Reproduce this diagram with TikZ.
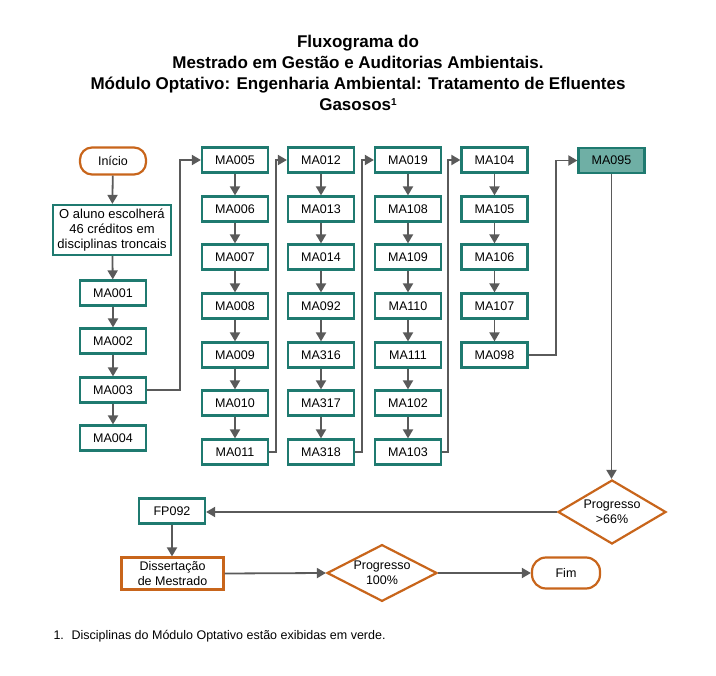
\documentclass[tikz,border=0pt]{standalone}
\usepackage{fontspec}
\setmainfont{Liberation Sans}
\usetikzlibrary{shapes.geometric,arrows.meta,positioning}
\definecolor{teal1}{HTML}{1F7A70}
\definecolor{tealfill}{HTML}{6FAFA5}
\definecolor{orng}{HTML}{C8651B}
\definecolor{arrg}{HTML}{5A5A5A}
\begin{document}
\begin{tikzpicture}[x=1pt,y=-1pt,
  box/.style={draw=teal1,line width=2.2pt,fill=white,minimum width=66pt,minimum height=25pt,inner sep=1pt,font=\fontsize{12.5}{14}\selectfont},
  obox/.style={draw=orng,line width=2.2pt,fill=white,align=center,inner sep=1pt,font=\fontsize{12.5}{14.5}\selectfont},
  term/.style={draw=orng,line width=2.2pt,fill=white,rounded corners=12pt,minimum width=66pt,minimum height=27pt,font=\fontsize{12.5}{14}\selectfont},
  dec/.style={draw=orng,line width=2.2pt,fill=white,diamond,aspect=1.7,inner sep=0pt,align=center,font=\fontsize{12.5}{14.5}\selectfont},
  arr/.style={draw=arrg,line width=1.8pt,-{Triangle[length=9pt,width=10pt]}}]
\useasboundingbox (0,0) rectangle (716,676);
% title
\node[align=center,font=\bfseries\fontsize{17}{21}\selectfont,anchor=north] (title) at (358,32)
  {Fluxograma do\\Mestrado em Gestão e Auditorias Ambientais.\\Módulo Optativo: Engenharia Ambiental: Tratamento de Efluentes\\Gasosos{\fontsize{10}{10}\selectfont\raisebox{5pt}{1}}};
% column 1
\node[term] (ini) at (113,161) {Início};
\node[box,align=center,minimum width=118pt,minimum height=50pt,inner sep=2pt,font=\fontsize{13}{15}\selectfont] (aluno) at (112,230) {O aluno escolherá\\46 créditos em\\disciplinas troncais};
\node[box] (ma001) at (113,293) {MA001};
\node[box] (ma002) at (113,341) {MA002};
\node[box] (ma003) at (113,390) {MA003};
\node[box] (ma004) at (113,438) {MA004};
\draw[arr] (ini) -- (aluno);
\draw[arr] (aluno) -- (ma001);
\draw[arr] (ma001) -- (ma002);
\draw[arr] (ma002) -- (ma003);
\draw[arr] (ma003) -- (ma004);
% columns
\def\rowy{{160,209,257,306,355,403,452}}
\foreach \n [count=\i from 0] in {MA005,MA006,MA007,MA008,MA009,MA010,MA011}{
  \pgfmathsetmacro\yy{\rowy[\i]}
  \node[box] (a\i) at (235,\yy) {\n};}
\foreach \n [count=\i from 0] in {MA012,MA013,MA014,MA092,MA316,MA317,MA318}{
  \pgfmathsetmacro\yy{\rowy[\i]}
  \node[box] (b\i) at (321,\yy) {\n};}
\foreach \n [count=\i from 0] in {MA019,MA108,MA109,MA110,MA111,MA102,MA103}{
  \pgfmathsetmacro\yy{\rowy[\i]}
  \node[box] (c\i) at (408,\yy) {\n};}
\foreach \n [count=\i from 0] in {MA104,MA105,MA106,MA107,MA098}{
  \pgfmathsetmacro\yy{\rowy[\i]}
  \node[box] (d\i) at (494.5,\yy) {\n};}
\node[box,fill=tealfill] (ma095) at (611.5,160.5) {MA095};
\foreach \c in {a,b,c}{
  \foreach \i [evaluate=\i as \j using int(\i+1)] in {0,...,5}{
    \draw[arr] (\c\i) -- (\c\j);}}
\foreach \i [evaluate=\i as \j using int(\i+1)] in {0,...,3}{
  \draw[arr] (d\i) -- (d\j);}
% column links
\draw[arr] (ma003.east) -- (180,390) |- (a0.west);
\draw[arr] (a6.east) -- (276,452) |- (b0.west);
\draw[arr] (b6.east) -- (362,452) |- (c0.west);
\draw[arr] (c6.east) -- (448,452) |- (d0.west);
\draw[arr] (d4.east) -- (556,355) |- (ma095.west);
% bottom
\node[dec,minimum width=108pt,minimum height=64pt] (p66) at (612,512) {Progresso\\>66\%};
\node[box] (fp092) at (172,511) {FP092};
\node[obox,minimum width=102pt,minimum height=32pt] (diss) at (172.5,573.5) {Dissertação\\de Mestrado};
\node[dec,minimum width=110pt,minimum height=48pt] (p100) at (382,573) {Progresso\\100\%};
\node[term,minimum width=68pt,minimum height=31pt,rounded corners=14pt] (fim) at (566,573) {Fim};
\draw[arr] (ma095.south) -- (ma095.south |- p66.north);
\draw[arr] (p66.west) -- (fp092.east |- p66.west);
\draw[arr] (fp092.south) -- (fp092.south |- diss.north);
\draw[arr] (diss.east) -- (p100.west);
\draw[arr] (p100.east) -- (fim.west);
% footnote
\node[anchor=base west,font=\fontsize{12.5}{14}\selectfont] (fn1) at (50,640) {1.};
\node[anchor=base west,font=\fontsize{12.5}{14}\selectfont] (fn) at (68,640) {Disciplinas do Módulo Optativo estão exibidas em verde.};
\end{tikzpicture}
\end{document}
